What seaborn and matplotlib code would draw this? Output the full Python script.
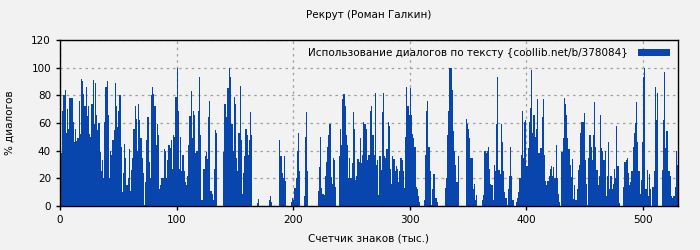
import numpy as np
import pandas as pd
import matplotlib
matplotlib.use('Agg')
import matplotlib.pyplot as plt
import seaborn as sns

#%% Dialogue share per 1000 characters
seg1 = [7,38,69,80,84,53, 70,56,78,78,78,61, 46,56,47,49,76,52, 92,90,81,72,86,65,
        72,52,50,74,91,59, 89,66,55,60,39,25, 33,20,61,86,90,66, 20,40,37,48,55,89,
        72,57,69,80,43,10, 24,45,35,15,20,41, 11,26,35,56,72,63, 40,74,62,49,35,24,
        1,17,48,64,32,20, 80,86,81,72,44,59, 51,12,15]
seg2 = [20,20,41,40,20,33, 44,42,48,27,51,50, 79,100,69,27,50,25, 37,25,17,15,22,44,
        65,83,49,69,66,38, 40,69,93,51,4,4, 27,36,39,34,64,76, 11,9,4,27,55,53,
        0,0,0,0,0,39, 74,64,85,85,100,93, 59,40,79,74,35,25, 53,87,48,9,24,36,
        56,51,37,48,68,51, 0,0,0,0,2,5, 0,0,0,0,0,0]
seg3 = [0,0,4,7,3, 0,0,0,0,0,0, 48,36,24,20,36,18, 0,0,0,0,3,6,
        4,13,20,40,53,25, 0,0,0,7,50,68, 25,0,0,0,0,0, 0,0,0,11,28,50,
        13,9,8,22,32,43, 51,59,21,16,35,33, 14,0,0,36,56,44, 77,81,72,51,44,20,
        35,20,31,68,56,19, 22,34,32,49,31,37, 61,59,56,33,37,37]
seg4 = [69,72,51,37,82, 30,33,8,36,26,68, 82,36,35,41,61,58, 27,16,36,34,25,29,
        27,17,25,35,33,25, 13,50,86,72,66,85, 66,52,49,43,14,12, 7,3,0,0,0,
        4,37,69,76,43,25, 1,12,23,23,6,3, 0,0,0,0,0,0, 13,20,51,69,100,100,
        84,54,40,30,17,36, 0,0,0,0,0,0, 63,59,56,49,35,35]
seg5 = [12,16,4,8,0, 0,0,0,4,8, 40,38,40,43,27,16, 15,4,30,25,59,93,
        26,23,59,46,25,10, 6,1,12,22,43,22, 4,0,0,3,6,10, 20,37,69,35,61,62,
        29,42,61,71,98,53, 66,50,56,77,38,38, 42,64,77,37,18,15, 18,22,27,29,22,28,
        20,44,20,9,3,0, 39,49,78,74,66,49, 41,30,21,34,5,15]
seg6 = [4,12,26,30,53, 61,61,67,33,16,1, 35,51,43,33,51,75, 43,26,15,22,66,42,
        40,33,40,7,22,46, 12,22,12,16,27,20, 58,29,2,0,0,0, 14,32,33,35,24,15,
        17,25,43,53,60,75, 46,25,9,19,46,93,100, 12,26,7,23,12, 0,14,25,86,62,82,
        0,0,0,26,62,97, 42,54,25,25,22,7, 6,7,14,40,30]

dialog_pct = seg1 + seg2 + seg3 + seg4 + seg5 + seg6
chars_k = np.arange(len(dialog_pct)) + 0.5   # bar centres, 1k chars per bin

title = 'Рекрут (Роман Галкин)'
legend_label = 'Использование диалогов по тексту {coollib.net/b/378084}'
xlabel = 'Счетчик знаков (тыс.)'
ylabel = '% диалогов'

df = pd.DataFrame({'chars': chars_k, 'pct': dialog_pct})

#%% Plot
bg = '#f2f2f2'
bar_clr = '#0846ad'
fs = 7.5
fig = plt.figure(figsize=(7, 2.5), dpi=100, facecolor=bg)
ax = fig.add_axes([60/700, 44/250, 618/700, 166/250])
ax.set_facecolor(bg)

sns.barplot(data=df, x='chars', y='pct', native_scale=True, width=1,
            color=bar_clr, saturation=1, linewidth=0, edgecolor='none',
            label=legend_label, ax=ax, zorder=2)

ax.set_xlim(0, 530)
ax.set_ylim(0, 120)
ax.set_xticks(np.arange(0, 501, 100))
ax.set_yticks(np.arange(0, 121, 20))
ax.grid(True, color='#a0a0a0', linestyle=(0, (2, 3)), linewidth=0.9, zorder=0)
ax.set_axisbelow(True)
for sp in ax.spines.values():
    sp.set_color('black')
    sp.set_linewidth(1)
ax.tick_params(labelsize=fs, length=3, width=1, colors='black')

ax.set_xlabel(xlabel, fontsize=fs, labelpad=6)
ax.set_ylabel(ylabel, fontsize=fs, labelpad=12)
ax.set_title(title, fontsize=fs, pad=16)

ax.legend(loc='upper right', frameon=False, fontsize=fs, markerfirst=False,
          handlelength=3.0, handleheight=0.7, borderaxespad=0.4,
          handletextpad=1.0)

fig.savefig('out.png', dpi=100, facecolor=bg)
